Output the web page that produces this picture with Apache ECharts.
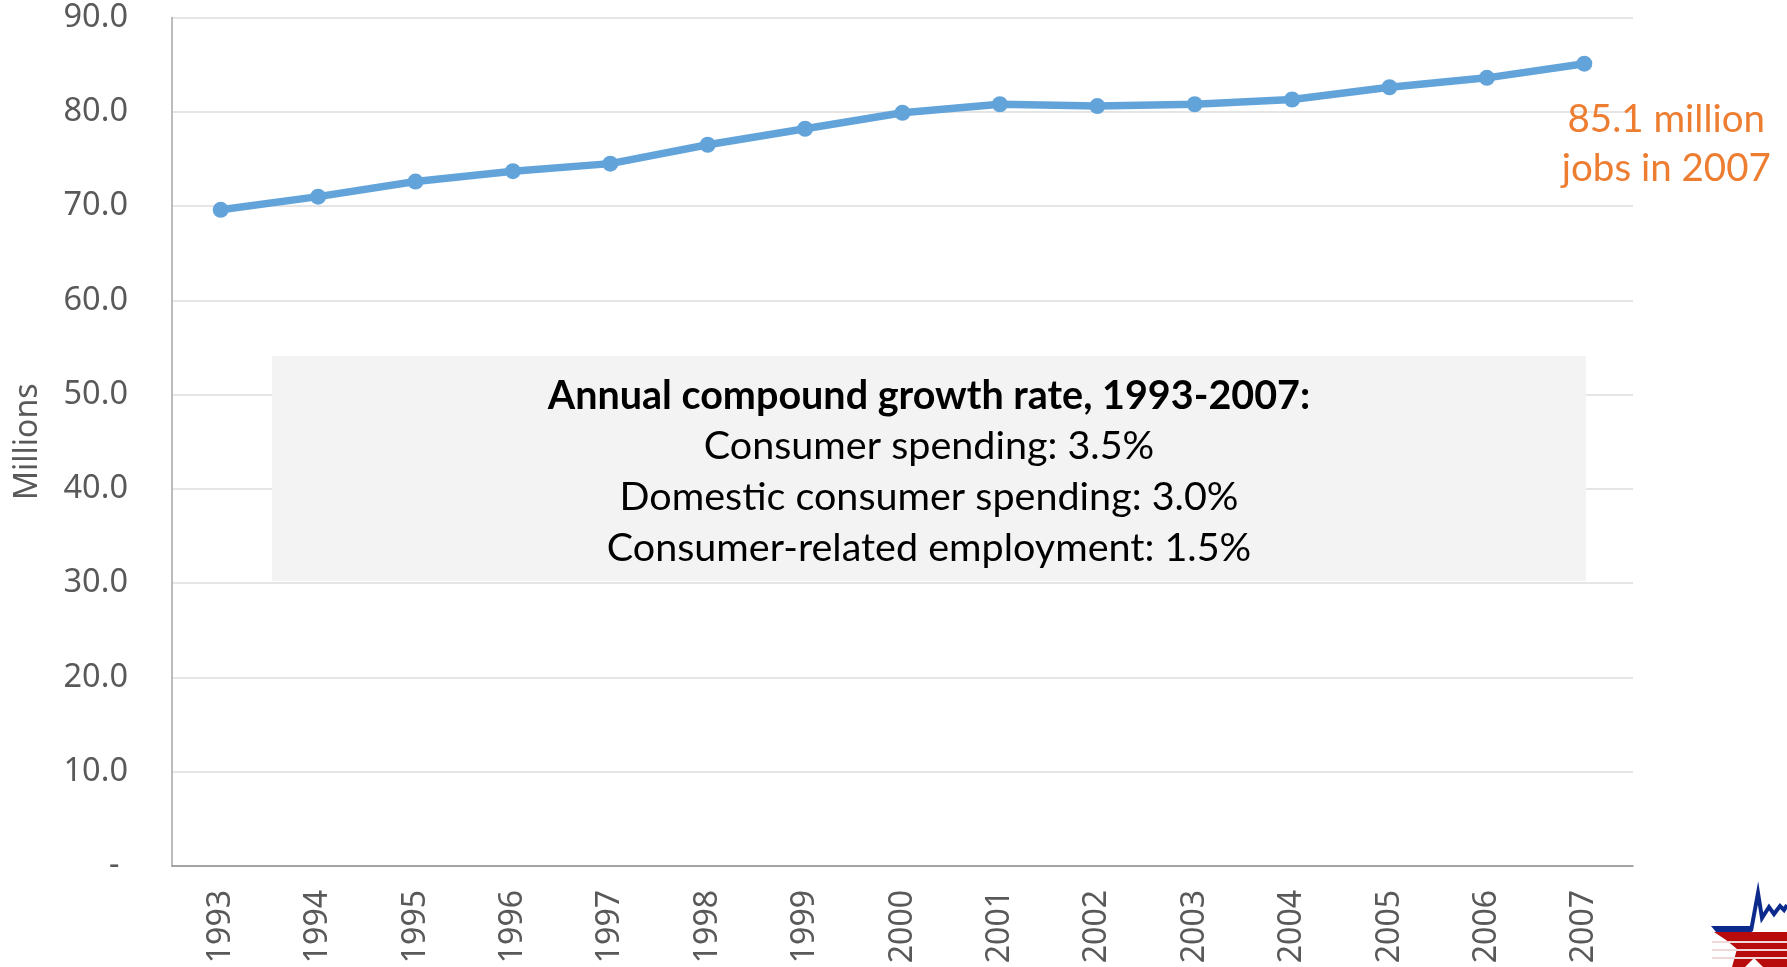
<!DOCTYPE html>
<html>
<head>
<meta charset="utf-8">
<title>Consumer-related employment, 1993-2007</title>
<script src="https://cdn.jsdelivr.net/npm/echarts@6/dist/echarts.min.js"></script>
<style>
  html, body { margin: 0; padding: 0; background: #ffffff; }
  #chart { width: 1787px; height: 967px; }
</style>
</head>
<body>
<div id="chart"></div>
<script>
// Consumer-related employment, millions of jobs
const years = ['1993','1994','1995','1996','1997','1998','1999','2000','2001','2002','2003','2004','2005','2006','2007'];
const jobsMillions = [69.6, 71.0, 72.6, 73.7, 74.5, 76.5, 78.2, 79.9, 80.8, 80.6, 80.8, 81.3, 82.6, 83.6, 85.1];

// Y axis range
const yMin = 0;
const yMax = 90;
const yStep = 10;

// Text block inside the plot
const growthTitle = 'Annual compound growth rate, 1993-2007:';
const growthLines = [
  'Consumer spending: 3.5%',
  'Domestic consumer spending: 3.0%',
  'Consumer-related employment: 1.5%'
];

const axisTextColor = '#595959';
const lineColor = '#62A4DA';
const calloutColor = '#ED7D31';
const uiFont = 'Noto Sans';
const boxFont = 'Lato';

const chart = echarts.init(document.getElementById('chart'), null, { renderer: 'canvas' });

const lastIdx = jobsMillions.length - 1;
const seriesData = jobsMillions.map((v, i) => {
  if (i !== lastIdx) return v;
  return {
    value: v,
    label: {
      show: true,
      position: 'inside',
      offset: [82, 80],
      align: 'center',
      verticalAlign: 'middle',
      fontFamily: boxFont,
      fontSize: 38.5,
      lineHeight: 49,
      color: calloutColor,
      formatter: (p) => p.value.toFixed(1) + ' million\njobs in ' + years[p.dataIndex]
    }
  };
});

// BLS-style star mark in the lower right corner
const stripeYs = [941, 949, 957];
const logo = [
  {
    type: 'polygon',
    shape: { points: [[1714,932],[1787,932],[1787,967],[1763,967],[1754,958],[1745,967],[1732,967],[1737,949],[1726,940]] },
    style: { fill: '#B80C0C' },
    z: 10
  },
  ...stripeYs.map(y => ({
    type: 'rect',
    shape: { x: 1712, y: y, width: 75, height: 2 },
    style: { fill: '#F0D8D8' },
    z: 11
  })),
  {
    type: 'polygon',
    shape: { points: [[1711,926],[1750,926],[1752,932],[1716,932]] },
    style: { fill: '#0C2A8C' },
    z: 12
  },
  {
    type: 'polyline',
    shape: { points: [[1751,931],[1758,893],[1762,918],[1769,907],[1774,914],[1780,906],[1784,910],[1787,905]] },
    style: { stroke: '#0C2A8C', lineWidth: 4, lineJoin: 'miter' },
    z: 12
  }
];

const boxLeft = 272, boxTop = 356, boxW = 1314, boxH = 225;
const boxCx = boxLeft + boxW / 2;

const option = {
  backgroundColor: '#ffffff',
  animation: false,
  grid: { left: 172, right: 154, top: 17.5, bottom: 101, containLabel: false },
  xAxis: {
    type: 'category',
    data: years,
    boundaryGap: true,
    axisLine: { show: true, lineStyle: { color: '#8E8E8E', width: 1.5 } },
    axisTick: { show: false },
    axisLabel: {
      rotate: 90,
      margin: 24,
      fontFamily: uiFont,
      fontSize: 32,
      color: axisTextColor
    },
    splitLine: { show: false }
  },
  yAxis: {
    type: 'value',
    min: yMin,
    max: yMax,
    interval: yStep,
    name: 'Millions',
    nameLocation: 'middle',
    nameRotate: 90,
    nameGap: 128,
    nameTextStyle: { fontFamily: uiFont, fontSize: 32, color: axisTextColor },
    axisLine: { show: true, lineStyle: { color: '#A6A6A6', width: 1.5 } },
    axisTick: { show: false },
    axisLabel: {
      margin: 44,
      fontFamily: uiFont,
      fontSize: 32.5,
      color: axisTextColor,
      formatter: (v) => v === 0 ? '- ' : v.toFixed(1)
    },
    splitLine: { show: true, lineStyle: { color: '#DCDCDC', width: 1.5 } }
  },
  series: [{
    type: 'line',
    data: seriesData,
    symbol: 'circle',
    symbolSize: 16,
    showAllSymbol: true,
    lineStyle: { color: lineColor, width: 7.5 },
    itemStyle: { color: lineColor },
    emphasis: { disabled: true },
    z: 5
  }],
  graphic: [
    {
      type: 'rect',
      shape: { x: boxLeft, y: boxTop, width: boxW, height: boxH },
      style: { fill: '#F3F3F3' },
      z: 3
    },
    {
      type: 'text',
      x: boxCx, y: 396,
      style: {
        text: growthTitle,
        fontFamily: boxFont, fontWeight: 'bold', fontSize: 39.5,
        fill: '#000000', align: 'center', verticalAlign: 'middle'
      },
      z: 4
    },
    ...growthLines.map((t, i) => ({
      type: 'text',
      x: boxCx, y: 446 + i * 51,
      style: {
        text: t,
        fontFamily: boxFont, fontSize: 39.5,
        fill: '#000000', align: 'center', verticalAlign: 'middle'
      },
      z: 4
    })),
    ...logo
  ]
};

chart.setOption(option);
</script>
</body>
</html>
